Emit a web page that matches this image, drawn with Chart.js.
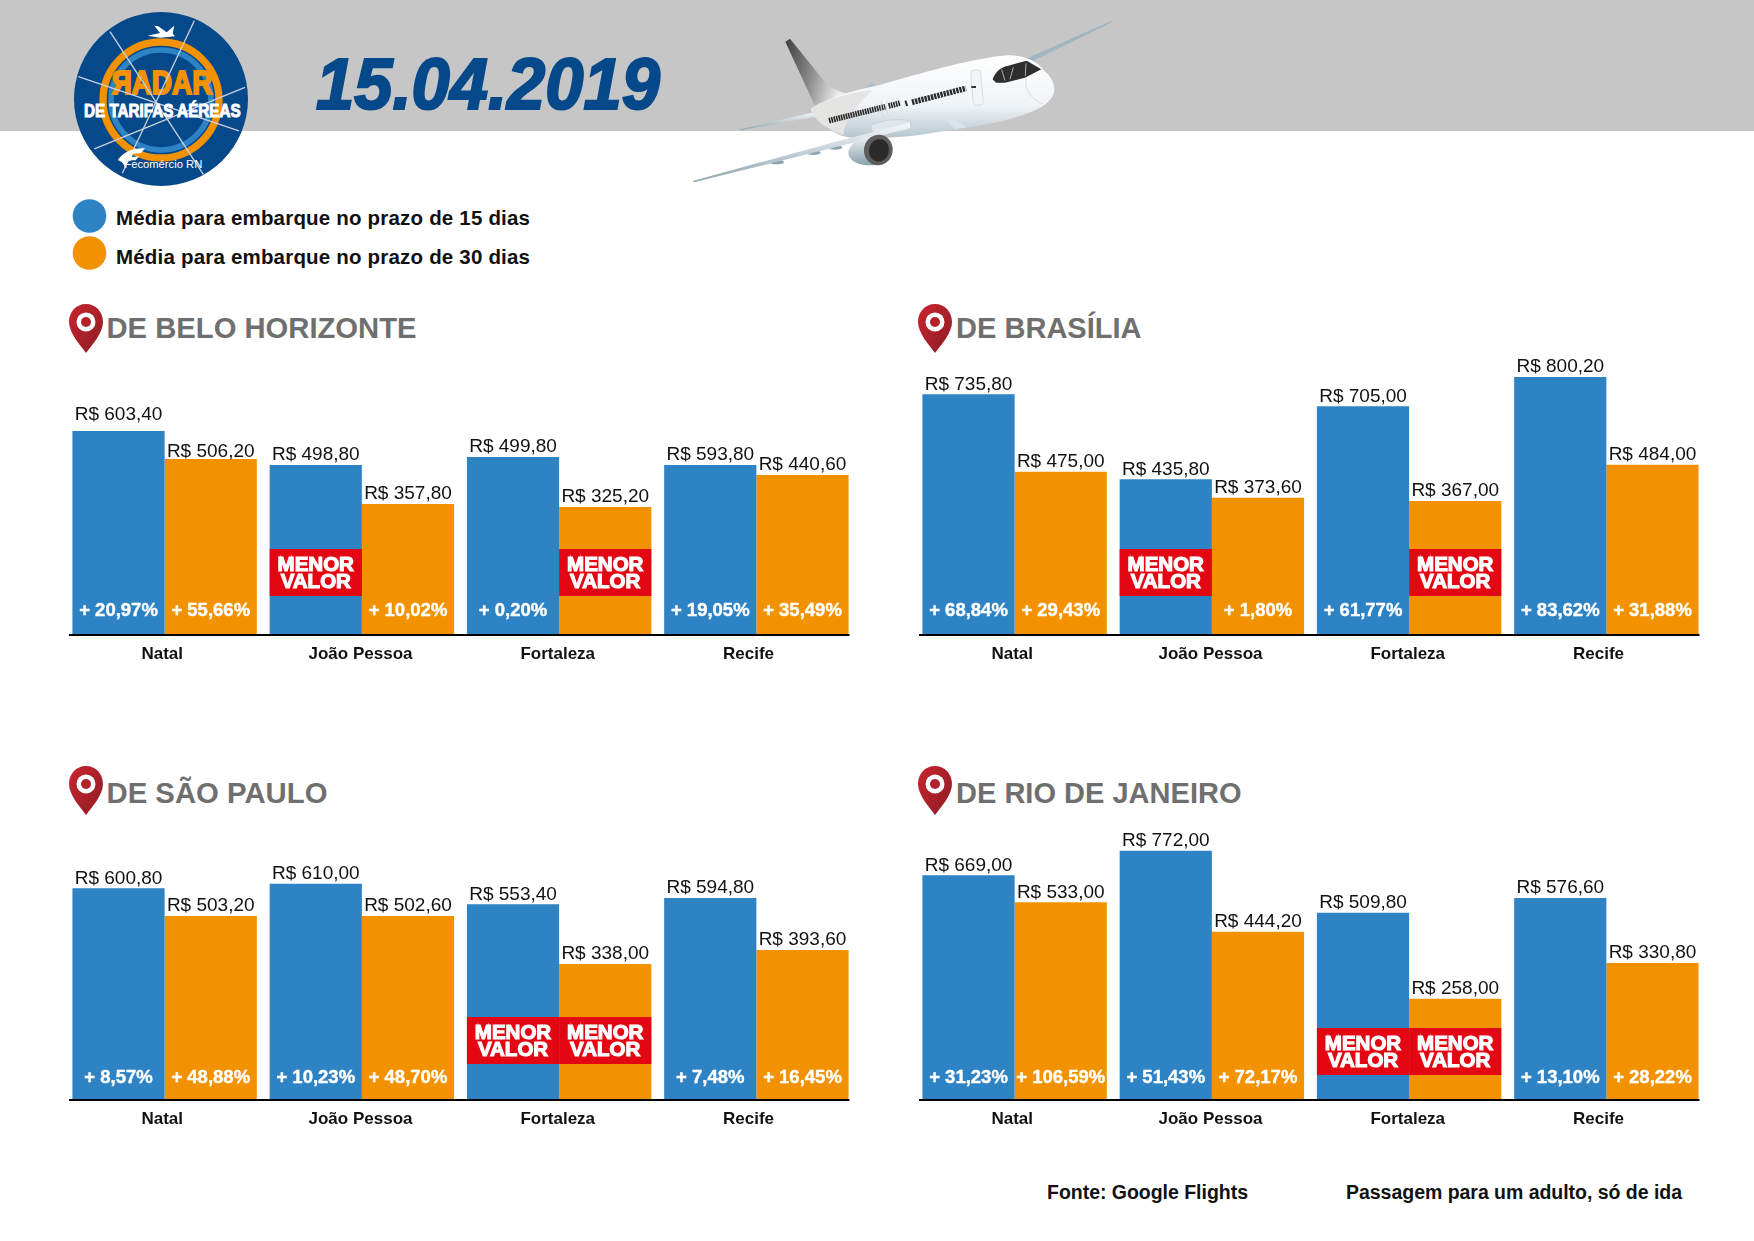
<!DOCTYPE html>
<html lang="pt-BR">
<head>
<meta charset="utf-8">
<title>Radar de Tarifas Aéreas 15.04.2019</title>
<script src="https://cdn.jsdelivr.net/npm/chart.js@4/dist/chart.umd.min.js"></script>
<style>
  html, body { margin: 0; padding: 0; background: #fff; }
  #page { position: relative; width: 1754px; height: 1241px; overflow: hidden; }
  #art { position: absolute; left: 0; top: 0; }
  canvas { position: absolute; }
  text { font-family: "Liberation Sans", Arial, sans-serif; }
</style>
</head>
<body>
<div id="page">
<svg id="art" width="1754" height="1241" viewBox="0 0 1754 1241">
  <defs>
    <linearGradient id="pinRed" x1="0" y1="0" x2="1" y2="1">
      <stop offset="0" stop-color="#c9252f"/><stop offset="1" stop-color="#8c1c25"/>
    </linearGradient>
    <linearGradient id="bodyGrad" x1="0" y1="0" x2="0" y2="1">
      <stop offset="0" stop-color="#ffffff"/><stop offset=".6" stop-color="#f0f4f7"/><stop offset="1" stop-color="#b4c5cd"/>
    </linearGradient>
    <linearGradient id="finGrad" x1="0" y1="0" x2="1" y2="0.25">
      <stop offset="0" stop-color="#3e3e3e"/><stop offset=".5" stop-color="#8a8a8a"/><stop offset="1" stop-color="#eeeeee"/>
    </linearGradient>
    <linearGradient id="wingGrad" x1="0" y1="0" x2="0" y2="1">
      <stop offset="0" stop-color="#f6f9fa"/><stop offset="1" stop-color="#8fa6b2"/>
    </linearGradient>
    <linearGradient id="nacGrad" x1="0" y1="0" x2="0" y2="1">
      <stop offset="0" stop-color="#eef3f5"/><stop offset="1" stop-color="#8aa1ac"/>
    </linearGradient>
    <g id="pin">
      <path d="M17 0 C7 0 0 8 0 18 C0 29 11 41 17 49 C23 41 34 29 34 18 C34 8 27 0 17 0 Z" fill="url(#pinRed)"/>
      <circle cx="17" cy="18" r="9.5" fill="#fff"/>
      <circle cx="17" cy="18" r="5" fill="#b5202a"/>
    </g>
  </defs>

  <rect x="0" y="0" width="1754" height="131" fill="#c6c6c6"/>

  <!-- selo, em coordenadas de 3x -->
  <g transform="translate(65,5) scale(0.3333)">
    <circle cx="288" cy="282" r="261" fill="#05498a"/>
    <circle cx="288" cy="285" r="150" fill="none" stroke="#2e83c5" stroke-width="17"/>
    <circle cx="288" cy="285" r="174" fill="none" stroke="#f39200" stroke-width="22"/>
    <text transform="translate(200,268) scale(-1,1)" font-size="98" font-weight="700" fill="#f39200" stroke="#f39200" stroke-width="6" textLength="60" lengthAdjust="spacingAndGlyphs">R</text>
    <text x="200" y="268" font-size="98" font-weight="700" fill="#f39200" stroke="#f39200" stroke-width="6" textLength="242" lengthAdjust="spacingAndGlyphs">ADAR</text>
    <g stroke="#c9cfe2" stroke-width="4">
      <line x1="135" y1="80" x2="415" y2="508"/>
      <line x1="388" y1="47" x2="172" y2="505"/>
      <line x1="40" y1="215" x2="522" y2="378"/>
      <line x1="540" y1="247" x2="88" y2="432"/>
    </g>
    <path d="M248 92 L285 84 L268 62 L280 64 L305 82 L328 62 L323 85 L330 94 L285 98 Z" fill="#fff"/>
    <text x="57" y="335" font-size="56" font-weight="700" fill="#fff" stroke="#fff" stroke-width="3" textLength="470" lengthAdjust="spacingAndGlyphs">DE TARIFAS AÉREAS</text>
    <path d="M158 466 C175 440 205 428 240 430 L228 444 L205 446 L200 456 L222 454 L212 466 L190 466 L180 490 C178 478 170 468 158 466 Z" fill="#fff"/>
    <text x="178" y="490" font-size="30" fill="#fff" textLength="234" lengthAdjust="spacingAndGlyphs">Fecomércio RN</text>
  </g>

  <text x="316" y="109" font-size="72" font-weight="700" font-style="italic" fill="#05498a" stroke="#05498a" stroke-width="2.2" textLength="344" lengthAdjust="spacingAndGlyphs">15.04.2019</text>

  <!-- avião, em coordenadas de 3x -->
  <g transform="translate(680,10) scale(0.3333)">
    <path d="M1035 148 L1293 33 L1295 37 L1060 152 Z" fill="#9fb5c1"/>
    <path d="M180 358 L405 306 L408 320 L182 361 Z" fill="url(#wingGrad)"/>
    <path d="M540 240 L575 220 L590 228 L560 245 Z" fill="#a9bbc4"/>
    <path d="M316 95 L330 86 L440 222 C455 238 480 245 505 252 L440 272 L404 286 Z" fill="url(#finGrad)"/>
    <path d="M392 296 C440 265 520 240 600 225 C720 190 860 150 960 138 C1030 128 1075 155 1095 185 C1120 205 1130 235 1118 258 C1100 300 1000 330 880 350 C790 362 720 378 640 382 C580 388 510 388 480 375 C440 355 400 330 392 296 Z" fill="url(#bodyGrad)"/>
    <path d="M392 296 C440 265 510 250 580 240 C530 280 495 330 490 375 C440 355 400 330 392 296 Z" fill="#e4e4e2"/>
    <g fill="none" stroke="#2b2b2b" stroke-width="17">
      <path d="M447 332 L616 290" stroke-dasharray="5 2.4"/>
      <path d="M626 288 L662 279" stroke-dasharray="5 2.4"/>
      <path d="M676 281 L682 279" stroke-dasharray="6 2"/>
      <path d="M696 277 L858 235" stroke-dasharray="7 2.8"/>
    </g>
    <rect x="876" y="180" width="30" height="106" rx="10" transform="rotate(-5 890 233)" fill="#f2f5f7" stroke="#c8d2d8" stroke-width="2"/>
    <rect x="874" y="228" width="14" height="6" fill="#333"/>
    <path d="M606 272 C600 290 605 315 612 320 M622 272 C616 290 620 315 628 318" fill="none" stroke="#c3ced4" stroke-width="2"/>
    <path d="M1040 205 C1030 230 1050 268 1090 282" fill="none" stroke="#c3ced4" stroke-width="2"/>
    <path d="M938 208 C945 185 965 170 985 167 L1040 152 L1084 178 L1035 203 L975 218 L948 218 Z" fill="#2e2e2e"/>
    <path d="M965 178 L975 212 M1000 172 L990 208 M1038 160 L1036 198" stroke="#e8e8e8" stroke-width="2" fill="none"/>
    <path d="M575 345 C600 330 660 325 685 332 C700 345 690 360 670 362 L590 372 C575 365 570 355 575 345 Z" fill="#dfe7eb" stroke="#b9c6cd" stroke-width="1.5"/>
    <path d="M795 320 C810 315 835 335 860 352 L825 358 C815 345 800 335 795 320 Z" fill="#dbe4e9"/>
    <ellipse cx="290" cy="456" rx="22" ry="7" fill="#8ea3ae"/>
    <ellipse cx="400" cy="428" rx="22" ry="7" fill="#8ea3ae"/>
    <ellipse cx="465" cy="412" rx="22" ry="7" fill="#8ea3ae"/>
    <path d="M38 513 L500 386 L690 338 L690 354 L520 398 L42 517 Z" fill="url(#wingGrad)"/>
    <path d="M505 425 C510 400 540 380 590 378 L600 462 C570 472 505 465 505 425 Z" fill="url(#nacGrad)"/>
    <ellipse cx="595" cy="420" rx="43" ry="46" transform="rotate(12 595 420)" fill="#5d5d5d"/>
    <ellipse cx="597" cy="421" rx="30" ry="34" transform="rotate(12 597 421)" fill="#2b2b2b"/>
  </g>

  <circle cx="89.5" cy="216" r="16.8" fill="#2e83c5"/>
  <circle cx="89.5" cy="253" r="16.8" fill="#f39200"/>
  <text x="116" y="225" font-size="20.5" font-weight="700" fill="#111" textLength="414">Média para embarque no prazo de 15 dias</text>
  <text x="116" y="264" font-size="20.5" font-weight="700" fill="#111" textLength="414">Média para embarque no prazo de 30 dias</text>

  <use href="#pin" x="69" y="304"/>
  <use href="#pin" x="918" y="304"/>
  <use href="#pin" x="69" y="766"/>
  <use href="#pin" x="918" y="766"/>
  <g font-size="29" font-weight="700" fill="#6f6f6f">
    <text x="106.5" y="337.5" textLength="310" lengthAdjust="spacingAndGlyphs">DE BELO HORIZONTE</text>
    <text x="956" y="337.5" textLength="185.6" lengthAdjust="spacingAndGlyphs">DE BRASÍLIA</text>
    <text x="106.5" y="803" textLength="221" lengthAdjust="spacingAndGlyphs">DE SÃO PAULO</text>
    <text x="956" y="803" textLength="285.5" lengthAdjust="spacingAndGlyphs">DE RIO DE JANEIRO</text>
  </g>

  <g font-size="19.5" font-weight="700" fill="#111">
    <text x="1047" y="1199" textLength="201">Fonte: Google Flights</text>
    <text x="1346" y="1199" textLength="336">Passagem para um adulto, só de ida</text>
  </g>
</svg>

<canvas id="chartBH" width="789" height="360" style="left:66px;top:314px"></canvas>
<canvas id="chartBSB" width="789" height="360" style="left:916px;top:314px"></canvas>
<canvas id="chartSP" width="789" height="360" style="left:66px;top:779px"></canvas>
<canvas id="chartRJ" width="789" height="360" style="left:916px;top:779px"></canvas>
</div>

<script>
var cities = ['Natal', 'João Pessoa', 'Fortaleza', 'Recife'];
// where each city name sits on the category positions (Recife is left of its bars)
var cityLabelSpots = [-0.012, 0.993, 1.993, 2.96];

// Printed prices
var bhPrices15 = [603.40, 498.80, 499.80, 593.80];
var bhPrices30 = [506.20, 357.80, 325.20, 440.60];
var bsbPrices15 = [735.80, 435.80, 705.00, 800.20];
var bsbPrices30 = [475.00, 373.60, 367.00, 484.00];
var spPrices15 = [600.80, 610.00, 553.40, 594.80];
var spPrices30 = [503.20, 502.60, 338.00, 393.60];
var rjPrices15 = [669.00, 772.00, 509.80, 576.60];
var rjPrices30 = [533.00, 444.20, 258.00, 330.80];

// Bars in the picture are not to scale with their printed prices,
// so these are the bars, on the same 0-960 axis for all panels
var bhBars15 = [609, 507, 531, 507];
var bhBars30 = [525, 390, 381, 477];
var bsbBars15 = [719, 464, 683, 771];
var bsbBars30 = [487, 409, 399, 508];
var spBars15 = [632, 646, 584, 603];
var spBars30 = [549, 549, 405, 447];
var rjBars15 = [671, 745, 559, 603];
var rjBars30 = [590, 502, 301, 408];

// Percent above the lowest fare, null is the lowest fare itself ("MENOR VALOR")
var bhPct15 = [20.97, null, 0.20, 19.05];
var bhPct30 = [55.66, 10.02, null, 35.49];
var bsbPct15 = [68.84, null, 61.77, 83.62];
var bsbPct30 = [29.43, 1.80, null, 31.88];
var spPct15 = [8.57, 10.23, null, 7.48];
var spPct30 = [48.88, 48.70, null, 16.45];
var rjPct15 = [31.23, 51.43, null, 13.10];
var rjPct30 = [106.59, 72.17, null, 28.22];

var BLUE = '#2e83c5';
var ORANGE = '#f39200';
var RED = '#e30613';
var FONT = '"Liberation Sans", Arial, sans-serif';

function money(v) {
  return 'R$ ' + v.toFixed(2).replace('.', ',');
}
function percent(v) {
  return '+ ' + v.toFixed(2).replace('.', ',') + '%';
}

// Prices, percents, the red boxes and the base line
var barTextPlugin = {
  id: 'barText',
  afterDatasetsDraw(chart, args, opts) {
    var ctx = chart.ctx;
    var base = chart.chartArea.bottom;
    ctx.save();
    ctx.textAlign = 'center';
    ctx.textBaseline = 'middle';
    chart.data.datasets.forEach((ds, d) => {
      chart.getDatasetMeta(d).data.forEach((bar, i) => {
        // the first Belo Horizonte labels sit a bit off the rest
        var lift = (opts.firstLift && i === 0) ? opts.firstLift[d] : 0;
        ctx.fillStyle = '#111';
        ctx.font = '19px ' + FONT;
        ctx.fillText(money(ds.prices[i]), bar.x, bar.y - 10 - lift);

        ctx.fillStyle = '#fff';
        ctx.strokeStyle = '#fff';
        if (ds.pct[i] === null) {
          ctx.fillStyle = RED;
          ctx.fillRect(bar.x - bar.width / 2, base - opts.boxTop, bar.width, opts.boxTop - opts.boxBottom);
          ctx.fillStyle = '#fff';
          ctx.font = 'bold 20.5px ' + FONT;
          ctx.lineWidth = 1.2;
          var mid = base - (opts.boxTop + opts.boxBottom) / 2;
          ctx.fillText('MENOR', bar.x, mid - 7);
          ctx.strokeText('MENOR', bar.x, mid - 7);
          ctx.fillText('VALOR', bar.x, mid + 10);
          ctx.strokeText('VALOR', bar.x, mid + 10);
        } else {
          ctx.font = 'bold 18.5px ' + FONT;
          ctx.lineWidth = 0.4;
          ctx.fillText(percent(ds.pct[i]), bar.x, base - opts.pctLift);
          ctx.strokeText(percent(ds.pct[i]), bar.x, base - opts.pctLift);
        }
      });
    });
    ctx.fillStyle = '#000';
    ctx.fillRect(chart.chartArea.left + 3, base, chart.chartArea.width - 8.5, 2);
    ctx.restore();
  }
};

function drawPanel(id, bars15, bars30, prices15, prices30, pct15, pct30, pctLift, boxTop, boxBottom, firstLift) {
  return new Chart(document.getElementById(id), {
    type: 'bar',
    data: {
      labels: cities,
      datasets: [
        { label: 'Média para embarque no prazo de 15 dias', data: bars15, prices: prices15, pct: pct15, backgroundColor: BLUE },
        { label: 'Média para embarque no prazo de 30 dias', data: bars30, prices: prices30, pct: pct30, backgroundColor: ORANGE }
      ]
    },
    options: {
      responsive: false,
      animation: false,
      layout: { padding: 0 },
      datasets: { bar: { categoryPercentage: 0.935, barPercentage: 1 } },
      plugins: {
        legend: { display: false },
        tooltip: { enabled: false },
        barText: { pctLift: pctLift, boxTop: boxTop, boxBottom: boxBottom, firstLift: firstLift }
      },
      scales: {
        y: { display: false, min: 0, max: 960 },
        x: {
          ticks: { display: false },
          grid: { display: false },
          border: { display: false },
          afterFit: s => { s.height = 0; }
        },
        cityAxis: {
          type: 'linear',
          position: 'bottom',
          offset: false,
          min: -0.5,
          max: 3.5,
          grid: { display: false },
          border: { display: false },
          afterBuildTicks: s => { s.ticks = cityLabelSpots.map(v => ({ value: v })); },
          afterFit: s => { s.height = 40; },
          ticks: {
            autoSkip: false,
            maxRotation: 0,
            padding: 2,
            color: '#111',
            font: { family: FONT, size: 17, weight: 'bold' },
            callback: (v, i) => cities[i]
          }
        }
      }
    },
    plugins: [barTextPlugin]
  });
}

drawPanel('chartBH', bhBars15, bhBars30, bhPrices15, bhPrices30, bhPct15, bhPct30, 23.5, 85, 38, [6, -3]);
drawPanel('chartBSB', bsbBars15, bsbBars30, bsbPrices15, bsbPrices30, bsbPct15, bsbPct30, 23.5, 85, 38);
drawPanel('chartSP', spBars15, spBars30, spPrices15, spPrices30, spPct15, spPct30, 21, 82, 35);
drawPanel('chartRJ', rjBars15, rjBars30, rjPrices15, rjPrices30, rjPct15, rjPct30, 21, 71, 24);
</script>
</body>
</html>
